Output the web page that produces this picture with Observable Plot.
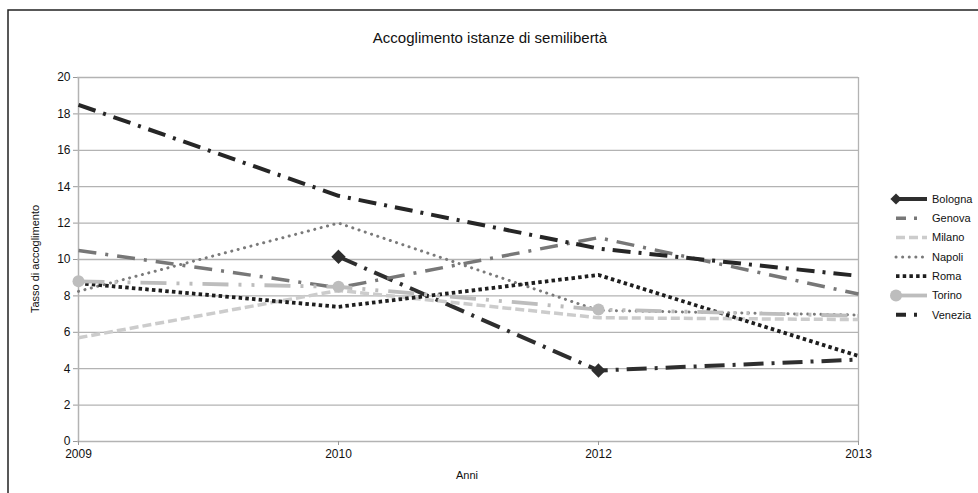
<!DOCTYPE html>
<html>
<head>
<meta charset="utf-8">
<script src="https://cdn.jsdelivr.net/npm/d3@7"></script>
<script src="https://cdn.jsdelivr.net/npm/@observablehq/plot@0.6"></script>
<style>
  html, body { margin: 0; padding: 0; background: #fff; }
  #chart svg { display: block; }
</style>
</head>
<body>
<div id="chart"></div>
<script>
const years = ["2009", "2010", "2012", "2013"];
const yTicks = [0, 2, 4, 6, 8, 10, 12, 14, 16, 18, 20];
const seriesNames = ["Bologna", "Genova", "Milano", "Napoli", "Roma", "Torino", "Venezia"];
const bologna = [null, 10.15, 3.9, 4.5];
const genova = [10.5, 8.45, 11.2, 8.1];
const milano = [5.7, 8.3, 6.8, 6.7];
const napoli = [8.25, 12.0, 7.2, 6.95];
const roma = [8.7, 7.4, 9.15, 4.7];
const torino = [8.8, 8.5, 7.25, 6.9];
const venezia = [18.5, 13.5, 10.6, 9.1];

const values = {Bologna: bologna, Genova: genova, Milano: milano, Napoli: napoli, Roma: roma, Torino: torino, Venezia: venezia};
const styles = {
  Bologna: {stroke: "#2e2e2e", strokeWidth: 4, strokeDasharray: "20,8,3,8", strokeLinecap: "butt", marker: "diamond"},
  Genova:  {stroke: "#777777", strokeWidth: 3.5, strokeDasharray: "18,9,3,9", strokeLinecap: "butt"},
  Milano:  {stroke: "#cccccc", strokeWidth: 3.5, strokeDasharray: "9,4", strokeLinecap: "butt"},
  Napoli:  {stroke: "#7a7a7a", strokeWidth: 3, strokeDasharray: "0.1,6.5", strokeLinecap: "round"},
  Roma:    {stroke: "#1e1e1e", strokeWidth: 3.8, strokeDasharray: "3.5,3.2", strokeLinecap: "butt"},
  Torino:  {stroke: "#bdbdbd", strokeWidth: 3.8, strokeDasharray: "26,10,3,10,3,10", strokeLinecap: "butt", marker: "circle"},
  Venezia: {stroke: "#262626", strokeWidth: 4, strokeDasharray: "18,8,3,8", strokeLinecap: "butt"}
};

const rows = [];
for (const name of seriesNames) {
  values[name].forEach((v, i) => { if (v != null) rows.push({series: name, year: years[i], value: v}); });
}

const lineMarks = seriesNames.map(name => Plot.line(rows.filter(d => d.series === name), {
  x: "year", y: "value",
  stroke: styles[name].stroke,
  strokeWidth: styles[name].strokeWidth,
  strokeDasharray: styles[name].strokeDasharray,
  strokeLinecap: styles[name].strokeLinecap,
  strokeLinejoin: "round"
}));

const markerRows = name => rows.filter(d => d.series === name && d.year !== years[years.length - 1]);

const chart = Plot.plot({
  width: 978,
  height: 493,
  marginLeft: 77,
  marginRight: 120,
  marginTop: 77,
  marginBottom: 52,
  style: {fontFamily: "'Liberation Sans', Arial, sans-serif", fontSize: "12px", background: "#fff", color: "#111"},
  x: {type: "point", domain: years, padding: 0},
  y: {domain: [0, 20]},
  marks: [
    Plot.ruleY(yTicks, {stroke: "#b3b3b3", strokeWidth: 1.3}),
    Plot.ruleX(["2009"], {stroke: "#b3b3b3", strokeWidth: 1.5}),
    Plot.ruleX(["2013"], {stroke: "#b3b3b3", strokeWidth: 1.3}),
    Plot.axisY(yTicks, {tickSize: 4, tickPadding: 3, stroke: "#999", label: null, fontSize: 12}),
    Plot.axisX({tickSize: 4, tickPadding: 4, stroke: "#999", label: null, fontSize: 12}),
    ...lineMarks,
    Plot.dot(markerRows("Bologna"), {x: "year", y: "value", symbol: "diamond2", r: 5.5, fill: "#2e2e2e", stroke: "#2e2e2e"}),
    Plot.dot(markerRows("Torino"), {x: "year", y: "value", symbol: "circle", r: 6, fill: "#bdbdbd"})
  ]
});

document.getElementById("chart").appendChild(chart);

const svg = d3.select(chart);
// outer frame
svg.append("rect").attr("x", 8).attr("y", 10).attr("width", 1000).attr("height", 500)
  .attr("fill", "none").attr("stroke", "#222").attr("stroke-width", 1.5);
// title
svg.append("text").attr("x", 490).attr("y", 43).attr("text-anchor", "middle")
  .attr("font-size", 15).attr("fill", "#111").text("Accoglimento istanze di semilibertà");
// axis titles
svg.append("text").attr("transform", "translate(39,259) rotate(-90)").attr("text-anchor", "middle")
  .attr("font-size", 11).attr("fill", "#111").text("Tasso di accoglimento");
svg.append("text").attr("x", 467).attr("y", 479).attr("text-anchor", "middle")
  .attr("font-size", 11).attr("fill", "#111").text("Anni");
// legend
const lg = svg.append("g");
seriesNames.forEach((name, i) => {
  const y = 199 + i * 19.3;
  const s = styles[name];
  const solid = s.marker != null;
  lg.append("line").attr("x1", solid ? 895 : 896).attr("x2", 927).attr("y1", y).attr("y2", y)
    .attr("stroke", s.stroke).attr("stroke-width", s.strokeWidth)
    .attr("stroke-dasharray", solid ? null : (name === "Genova" || name === "Venezia" ? "10,8,3,20" : s.strokeDasharray))
    .attr("stroke-linecap", s.strokeLinecap);
  if (s.marker === "diamond") {
    lg.append("path").attr("d", d3.symbol(d3.symbolDiamond2, 80)()).attr("transform", `translate(896,${y})`).attr("fill", s.stroke);
  } else if (s.marker === "circle") {
    lg.append("circle").attr("cx", 896).attr("cy", y).attr("r", 6).attr("fill", s.stroke);
  }
  lg.append("text").attr("x", 932).attr("y", y).attr("dy", "0.35em").attr("text-anchor", "start")
    .attr("font-size", 11).attr("fill", "#111").text(name);
});
</script>
</body>
</html>
